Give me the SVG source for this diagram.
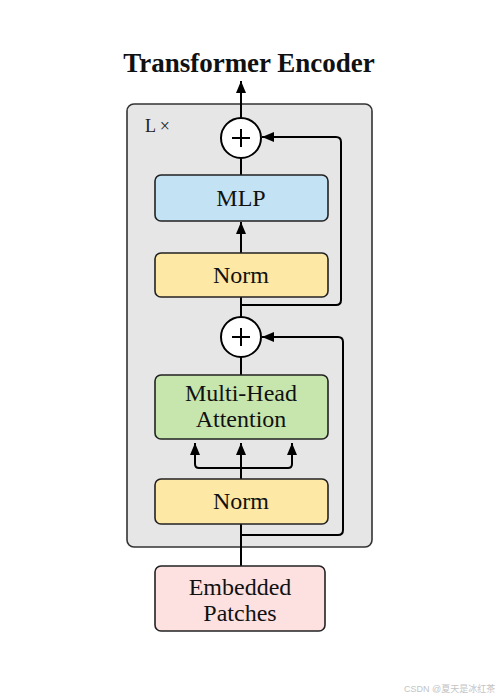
<svg xmlns="http://www.w3.org/2000/svg" width="504" height="700" viewBox="0 0 504 700">
<style>
.box{stroke:#222;stroke-width:1.6}
.lbl{font-family:"Liberation Serif","Times New Roman",serif;font-size:24px;fill:#111;text-anchor:middle}
.ln{fill:none;stroke:#000;stroke-width:2}
</style>
<defs>
<marker id="ah" markerUnits="userSpaceOnUse" markerWidth="12" markerHeight="12" viewBox="0 0 12 12" refX="12" refY="6" orient="auto">
<path d="M0,1 L12,6 L0,11 Z" fill="#000"/>
</marker>
</defs>
<rect width="504" height="700" fill="#fff"/>
<text x="249" y="72" font-family="Liberation Serif,'Times New Roman',serif" font-weight="bold" font-size="27" text-anchor="middle" fill="#111">Transformer Encoder</text>
<g id="encoder">
<rect x="127" y="104" width="245" height="443" rx="7" fill="#e6e6e6" stroke="#333" stroke-width="1.6"/>
<text x="145" y="132" font-family="Liberation Serif,'Times New Roman',serif" font-size="18" fill="#222">L ×</text>
</g>
<g id="connectors">
<path class="ln" d="M241,118 V81" marker-end="url(#ah)"/>
<path class="ln" d="M241,175 V158"/>
<path class="ln" d="M241,253 V222" marker-end="url(#ah)"/>
<path class="ln" d="M241,297 V317"/>
<path class="ln" d="M241,357 V375"/>
<path class="ln" d="M241,479 V443" marker-end="url(#ah)"/>
<path class="ln" d="M241,468 H199 Q195,468 195,464 V443" marker-end="url(#ah)"/>
<path class="ln" d="M241,468 H288 Q292,468 292,464 V443" marker-end="url(#ah)"/>
<path class="ln" d="M241,566 V524"/>
<path class="ln" d="M241,305 H336 Q341,305 341,300 V142 Q341,137 336,137 H262" marker-end="url(#ah)"/>
<path class="ln" d="M241,535 H338 Q343,535 343,530 V342 Q343,337 338,337 H262" marker-end="url(#ah)"/>
</g>
<g id="add1">
<circle cx="241" cy="138" r="20" fill="#fff" stroke="#000" stroke-width="2"/>
<path d="M232,138 H250 M241,129 V147" stroke="#000" stroke-width="2"/>
</g>
<g id="mlp">
<rect class="box" x="155" y="175" width="173" height="46" rx="6" fill="#c3e3f5"/>
<text class="lbl" x="241" y="206">MLP</text>
</g>
<g id="norm1">
<rect class="box" x="155" y="253" width="173" height="44" rx="6" fill="#fde8a6"/>
<text class="lbl" x="241" y="283">Norm</text>
</g>
<g id="add2">
<circle cx="241" cy="337" r="20" fill="#fff" stroke="#000" stroke-width="2"/>
<path d="M232,337 H250 M241,328 V346" stroke="#000" stroke-width="2"/>
</g>
<g id="mha">
<rect class="box" x="155" y="375" width="173" height="64" rx="6" fill="#c6e6ae"/>
<text class="lbl" x="241" y="401">Multi-Head</text>
<text class="lbl" x="241" y="427">Attention</text>
</g>
<g id="norm2">
<rect class="box" x="155" y="479" width="173" height="45" rx="6" fill="#fde8a6"/>
<text class="lbl" x="241" y="509">Norm</text>
</g>
<g id="embedded">
<rect class="box" x="155" y="566" width="170" height="65" rx="6" fill="#fde1e1"/>
<text class="lbl" x="240" y="595">Embedded</text>
<text class="lbl" x="240" y="621">Patches</text>
</g>
<text x="404" y="692" font-family="Liberation Sans,'Noto Sans CJK SC',sans-serif" font-size="9" fill="#c4c4c4">CSDN @夏天是冰红茶</text>
</svg>
